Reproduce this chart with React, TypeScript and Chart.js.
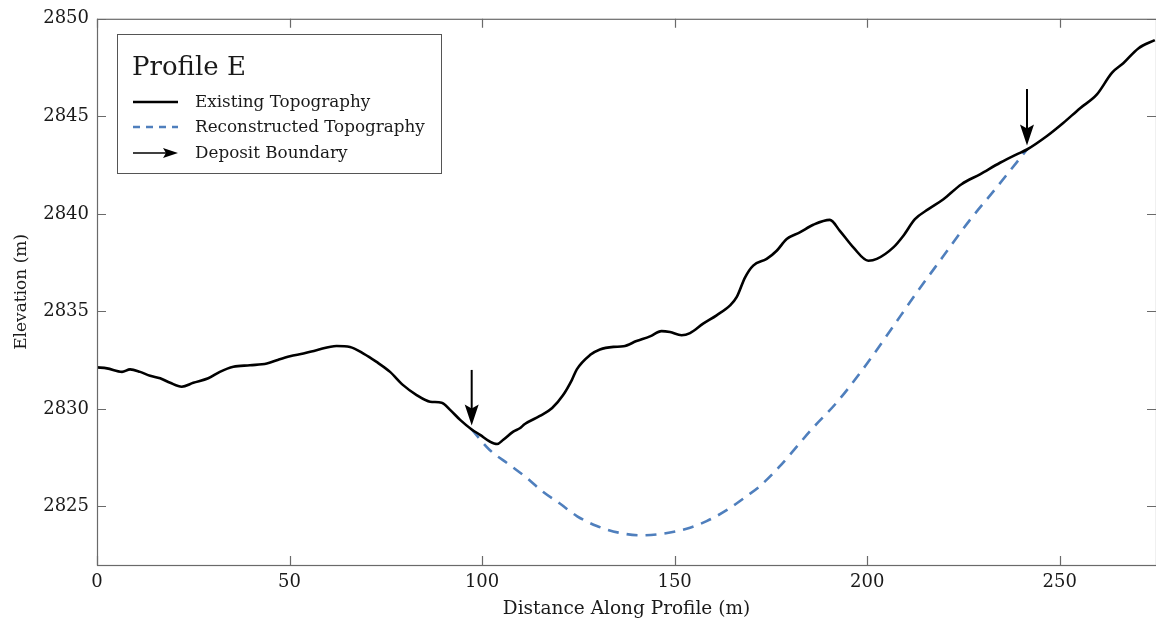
import React, { useEffect, useRef } from 'react';
import { Chart, registerables } from 'chart.js';

Chart.register(...registerables);

// ---- Data ----
const existingX = [
  0, 2.6, 6.5, 8.6, 11.2, 13.8, 16.4, 19.0, 22.0, 25.0, 28.9, 31.9, 35.4, 39.7, 44.1, 46.7, 50.1, 53.6,
  57.0, 62.2, 65.7, 69.2, 72.6, 76.1, 79.5, 83.0, 86.5, 89.5, 91.7, 94.3, 97.3, 99.5, 102.0, 103.9, 105.5,
  108.1, 109.8, 111.1, 115.0, 118.2, 121.0, 123.3, 124.6, 128.0, 130.6, 134.1, 136.7, 140.1, 143.6, 146.6,
  148.8, 151.8, 154.0, 157.4, 160.9, 164.4, 166.1, 168.3, 170.4, 173.9, 176.5, 179.1, 182.5, 186.0, 190.3,
  192.9, 196.4, 200.3, 202.5, 206.8, 209.4, 212.4, 215.9, 219.8, 224.5, 229.3, 234.5, 238.8, 241.5, 246.6,
  250.9, 255.3, 259.6, 263.6, 266.5, 270.4, 274.7,
];
const existingY = [
  2832.13, 2832.08, 2831.9, 2832.03, 2831.9, 2831.7, 2831.57, 2831.34, 2831.14, 2831.34, 2831.57, 2831.9,
  2832.16, 2832.24, 2832.33, 2832.5, 2832.7, 2832.84, 2833.01, 2833.23, 2833.18, 2832.84, 2832.41, 2831.9,
  2831.22, 2830.71, 2830.37, 2830.32, 2829.95, 2829.44, 2828.95, 2828.67, 2828.33, 2828.2, 2828.42, 2828.84,
  2829.01, 2829.23, 2829.64, 2830.05, 2830.7, 2831.48, 2832.03, 2832.76, 2833.05, 2833.18, 2833.21, 2833.48,
  2833.72, 2833.99, 2833.94, 2833.78, 2833.89, 2834.37, 2834.8, 2835.31, 2835.73, 2836.75, 2837.35, 2837.69,
  2838.11, 2838.71, 2839.05, 2839.44, 2839.69, 2839.13, 2838.28, 2837.6, 2837.69, 2838.28, 2838.88, 2839.73,
  2840.24, 2840.75, 2841.52, 2842.03, 2842.62, 2843.05, 2843.3, 2843.98, 2844.66, 2845.42, 2846.11, 2847.24,
  2847.72, 2848.48, 2848.91,
];
const reconX = [
  97.3, 101.9, 107.1, 111.5, 115.7, 120.2, 124.6, 129.8, 135.4, 141.4, 147.1, 153.1, 158.3, 163.5, 168.7,
  172.0, 177.2, 185.7, 192.0, 198.7, 205.7, 212.7, 219.5, 226.5, 233.5, 241.5,
];
const reconY = [
  2828.95, 2827.91, 2827.14, 2826.48, 2825.77, 2825.15, 2824.51, 2824.0, 2823.66, 2823.52, 2823.61, 2823.86,
  2824.25, 2824.81, 2825.53, 2826.02, 2827.04, 2828.98, 2830.31, 2831.99, 2833.93, 2835.92, 2837.76, 2839.64,
  2841.33, 2843.3,
];
const boundaryX = [97.3, 241.5];
const arrowTopY = [2832.0, 2846.4];
const arrowTipY = [2829.15, 2843.5];

const legendTitle = 'Profile E';
const seriesNames = ['Existing Topography', 'Reconstructed Topography', 'Deposit Boundary'];
const xTitle = 'Distance Along Profile (m)';
const yTitle = 'Elevation (m)';
const xRange = [0, 275];
const yRange = [2822, 2850];
const xStep = 50;
const yStep = 5;

const FONT = "'DejaVu Serif', serif";
const TEXT = '#1a1a1a';
const AXIS = '#6a6a6a';
const BLUE = '#4f7fbd';

function drawArrowHead(ctx: CanvasRenderingContext2D, tx: number, ty: number, dx: number, dy: number, len: number, half: number, notch: number) {
  const px = -dy, py = dx;
  const bx = tx - dx * len, by = ty - dy * len;
  const nx = tx - dx * (len - notch), ny = ty - dy * (len - notch);
  ctx.beginPath();
  ctx.moveTo(tx, ty);
  ctx.lineTo(bx + px * half, by + py * half);
  ctx.lineTo(nx, ny);
  ctx.lineTo(bx - px * half, by - py * half);
  ctx.closePath();
  ctx.fill();
}

const decorPlugin = {
  id: 'decor',
  afterDatasetsDraw(chart: any) {
    const { ctx, scales } = chart;
    const xs = scales.x, ys = scales.y;
    ctx.save();
    ctx.strokeStyle = '#000';
    ctx.fillStyle = '#000';
    ctx.lineWidth = 2;
    for (let i = 0; i < boundaryX.length; i++) {
      const x = xs.getPixelForValue(boundaryX[i]);
      const y0 = ys.getPixelForValue(arrowTopY[i]);
      const y1 = ys.getPixelForValue(arrowTipY[i]);
      ctx.beginPath();
      ctx.moveTo(x, y0);
      ctx.lineTo(x, y1 - 12);
      ctx.stroke();
      drawArrowHead(ctx, x, y1, 0, 1, 21, 7, 4);
    }
    ctx.restore();
  },
  afterDraw(chart: any) {
    const { ctx, chartArea, scales } = chart;
    const { left, right, top, bottom } = chartArea;
    ctx.save();
    ctx.strokeStyle = AXIS;
    ctx.lineWidth = 1.2;
    ctx.strokeRect(left + 0.5, top + 0.5, right - left, bottom - top);
    const TL = 9;
    ctx.beginPath();
    scales.x.ticks.forEach((t: any) => {
      const x = Math.round(scales.x.getPixelForValue(t.value)) + 0.5;
      ctx.moveTo(x, bottom);
      ctx.lineTo(x, bottom - TL);
      ctx.moveTo(x, top);
      ctx.lineTo(x, top + TL);
    });
    scales.y.ticks.forEach((t: any) => {
      const y = Math.round(scales.y.getPixelForValue(t.value)) + 0.5;
      ctx.moveTo(left, y);
      ctx.lineTo(left + TL, y);
      ctx.moveTo(right, y);
      ctx.lineTo(right - TL, y);
    });
    ctx.stroke();

    // legend
    const bx = 117, by = 34, bw = 324, bh = 139;
    ctx.fillStyle = '#fff';
    ctx.fillRect(bx, by, bw, bh);
    ctx.strokeStyle = '#555';
    ctx.lineWidth = 1;
    ctx.strokeRect(bx + 0.5, by + 0.5, bw, bh);
    ctx.fillStyle = TEXT;
    ctx.textBaseline = 'alphabetic';
    ctx.textAlign = 'left';
    ctx.font = `26px ${FONT}`;
    ctx.fillText(legendTitle, 132, 75);
    ctx.font = `16.8px ${FONT}`;
    ctx.textBaseline = 'middle';
    const rows = [102, 127, 153];
    const sx0 = 133, sx1 = 178, tx = 195;
    ctx.strokeStyle = '#000';
    ctx.lineWidth = 2.5;
    ctx.beginPath();
    ctx.moveTo(sx0, rows[0]);
    ctx.lineTo(sx1, rows[0]);
    ctx.stroke();
    ctx.strokeStyle = BLUE;
    ctx.setLineDash([7, 6]);
    ctx.beginPath();
    ctx.moveTo(sx0, rows[1]);
    ctx.lineTo(sx1, rows[1]);
    ctx.stroke();
    ctx.setLineDash([]);
    ctx.strokeStyle = '#000';
    ctx.fillStyle = '#000';
    ctx.lineWidth = 1.5;
    ctx.beginPath();
    ctx.moveTo(sx0, rows[2]);
    ctx.lineTo(sx1 - 8, rows[2]);
    ctx.stroke();
    drawArrowHead(ctx, sx1, rows[2], 1, 0, 15, 5, 3);
    ctx.fillStyle = TEXT;
    seriesNames.forEach((n, i) => ctx.fillText(n, tx, rows[i] + 1));
    ctx.restore();
  },
};

export default function App() {
  const ref = useRef<HTMLCanvasElement | null>(null);
  useEffect(() => {
    if (!ref.current) return;
    Chart.defaults.font.family = FONT;
    Chart.defaults.font.size = 18;
    Chart.defaults.color = TEXT;
    const chart = new Chart(ref.current, {
      type: 'line',
      data: {
        datasets: [
          {
            label: seriesNames[0],
            data: existingX.map((x, i) => ({ x, y: existingY[i] })),
            borderColor: '#000',
            borderWidth: 2.6,
            pointRadius: 0,
            cubicInterpolationMode: 'monotone',
            fill: false,
          },
          {
            label: seriesNames[1],
            data: reconX.map((x, i) => ({ x, y: reconY[i] })),
            borderColor: BLUE,
            borderWidth: 2.6,
            borderDash: [11, 8],
            pointRadius: 0,
            cubicInterpolationMode: 'monotone',
            fill: false,
          },
        ],
      },
      options: {
        responsive: false,
        animation: false,
        devicePixelRatio: 1,
        layout: { padding: { top: 17, right: 0, bottom: 0, left: 0 } },
        plugins: { legend: { display: false }, tooltip: { enabled: false } },
        scales: {
          x: {
            type: 'linear',
            min: xRange[0],
            max: xRange[1],
            grid: { display: false, drawTicks: false },
            border: { display: false },
            ticks: { stepSize: xStep, includeBounds: false, padding: 7, autoSkip: false, maxRotation: 0, color: TEXT, font: { size: 18 }, callback: (v: any) => String(v) },
            title: { display: true, text: xTitle, color: TEXT, font: { size: 18.5 }, padding: { top: 0, bottom: 4 } },
            afterFit: (s: any) => { s.height = 59; },
          },
          y: {
            type: 'linear',
            min: yRange[0],
            max: yRange[1],
            grid: { display: false, drawTicks: false },
            border: { display: false },
            ticks: { stepSize: yStep, includeBounds: false, padding: 8, color: TEXT, font: { size: 18 }, callback: (v: any) => String(v) },
            title: { display: true, text: yTitle, color: TEXT, font: { size: 17 }, padding: { top: 11, bottom: 0 } },
            afterFit: (s: any) => { s.width = 97; },
          },
        },
      },
      plugins: [decorPlugin],
    });
    return () => chart.destroy();
  }, []);
  return (
    <div style={{ position: 'fixed', left: 0, top: 0, width: 1156, height: 624, background: '#fff' }}>
      <canvas ref={ref} width={1156} height={624} style={{ display: 'block' }} />
    </div>
  );
}
